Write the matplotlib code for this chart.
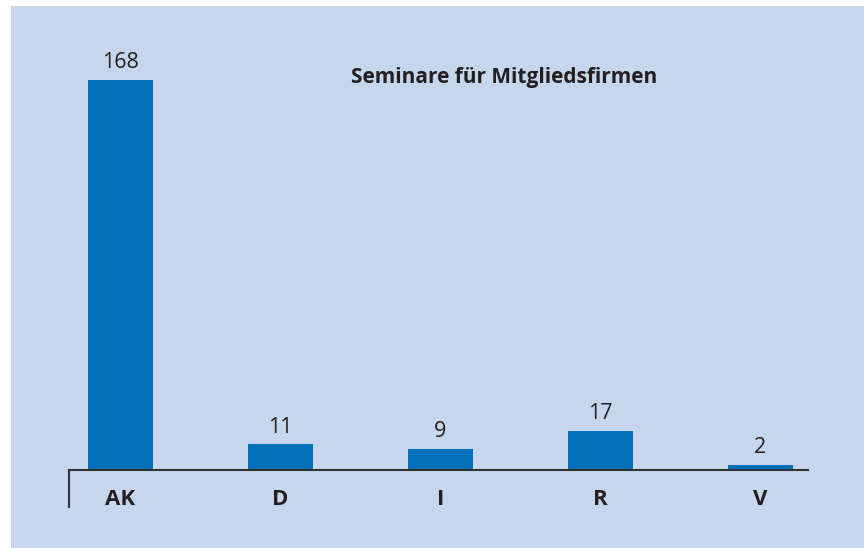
import matplotlib.pyplot as plt

categories = ['AK', 'D', 'I', 'R', 'V']
values = [168, 11, 9, 17, 2]
title = 'Seminare für Mitgliedsfirmen'

bar_color = '#0070ba'
bg_color = '#c6d7ed'
text_color = '#231f20'

plt.rcParams['font.family'] = ['Open Sans', 'DejaVu Sans']

fig = plt.figure(figsize=(8.64, 5.48), dpi=100, facecolor='white')

# light blue panel behind the chart
bg = fig.add_axes([11/864, 0, 1 - 11/864, 1 - 6/548], zorder=0)
bg.set_facecolor(bg_color)
bg.set_xticks([])
bg.set_yticks([])
for s in bg.spines.values():
    s.set_visible(False)

ax = fig.add_axes([69/864, 1 - 470/548, 739/864, 440/548], zorder=1)
ax.patch.set_visible(False)

x = range(len(categories))
ax.bar(x, values, width=0.406, color=bar_color, zorder=2)
for xi, v in zip(x, values):
    ax.annotate(str(v), (xi, v), xytext=(0, 5), textcoords='offset points',
                ha='center', va='bottom', fontsize=15.5, color=text_color)

ax.set_xlim(-0.32, 4.297)
ax.set_ylim(0, 189.6)
ax.set_xticks(list(x))
ax.set_xticklabels(categories, fontsize=16, fontweight='bold', color=text_color)
ax.tick_params(axis='x', length=0, pad=14)
ax.set_yticks([])
for s in ['top', 'right', 'left']:
    ax.spines[s].set_visible(False)
ax.spines['bottom'].set_color('#333333')
ax.spines['bottom'].set_linewidth(1.5)
ax.plot([0, 0], [0, -37/440], transform=ax.transAxes, clip_on=False,
        color='#333333', linewidth=1.5)

fig.text(504/864, 1 - 78/548, title, ha='center', va='center',
         fontsize=15, fontweight='bold', color=text_color, zorder=3)

fig.savefig('out.png', dpi=100, facecolor='white')
